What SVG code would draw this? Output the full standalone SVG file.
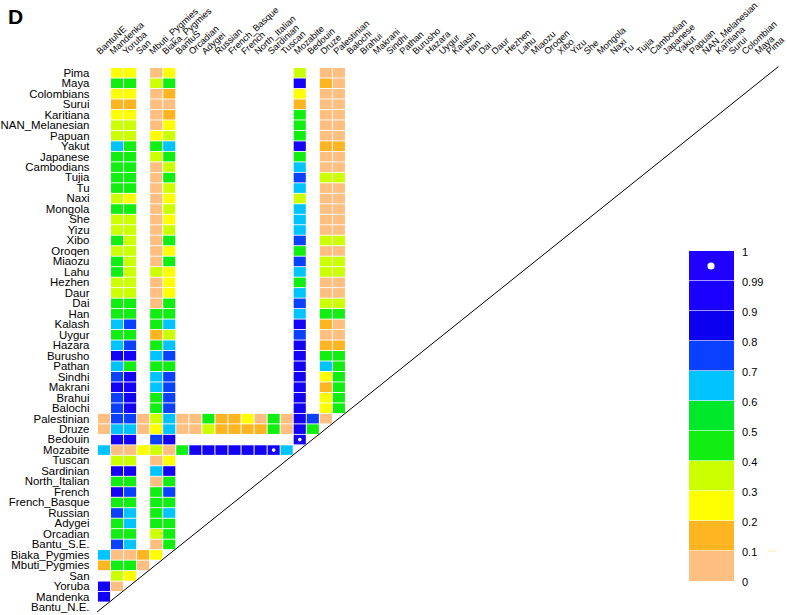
<svg xmlns="http://www.w3.org/2000/svg" width="787" height="615" viewBox="0 0 787 615">
<style>
text{font-family:"Liberation Sans",Arial,sans-serif;fill:#000}
.rl{font-size:10.4px;text-anchor:end}
.cl{font-size:9.2px}
.lg{font-size:11px}
.p{fill:#ffbf80}.o{fill:#ffb422}.y{fill:#ffff00}.yg{fill:#ccff00}.g{fill:#11ee11}.g6{fill:#00e82a}.lb{fill:#00c4ff}.mb{fill:#0a40ff}.db{fill:#1402f6}.d1{fill:#2000ff}.d99{fill:#1a00ff}.d9{fill:#0a00ee}
.cells rect{width:12.1px;height:9.6px}
</style>
<rect width="787" height="615" fill="#fff"/>
<text x="8" y="23.5" style="font-size:21px;font-weight:bold">D</text>
<g id="column-labels" class="cl">
<text transform="translate(100,55) rotate(-43)">BantuNE</text>
<text transform="translate(113.17,55) rotate(-43)">Mandenka</text>
<text transform="translate(126.34,55) rotate(-43)">Yoruba</text>
<text transform="translate(139.51,55) rotate(-43)">San</text>
<text transform="translate(152.68,55) rotate(-43)">Mbuti_Pygmies</text>
<text transform="translate(165.85,55) rotate(-43)">Biaka_Pygmies</text>
<text transform="translate(179.02,55) rotate(-43)">BantuS</text>
<text transform="translate(192.19,55) rotate(-43)">Orcadian</text>
<text transform="translate(205.36,55) rotate(-43)">Adygei</text>
<text transform="translate(218.53,55) rotate(-43)">Russian</text>
<text transform="translate(231.7,55) rotate(-43)">French_Basque</text>
<text transform="translate(244.87,55) rotate(-43)">French</text>
<text transform="translate(258.04,55) rotate(-43)">North_Italian</text>
<text transform="translate(271.21,55) rotate(-43)">Sardinian</text>
<text transform="translate(284.38,55) rotate(-43)">Tuscan</text>
<text transform="translate(297.55,55) rotate(-43)">Mozabite</text>
<text transform="translate(310.72,55) rotate(-43)">Bedouin</text>
<text transform="translate(323.89,55) rotate(-43)">Druze</text>
<text transform="translate(337.06,55) rotate(-43)">Palestinian</text>
<text transform="translate(350.23,55) rotate(-43)">Balochi</text>
<text transform="translate(363.4,55) rotate(-43)">Brahui</text>
<text transform="translate(376.57,55) rotate(-43)">Makrani</text>
<text transform="translate(389.74,55) rotate(-43)">Sindhi</text>
<text transform="translate(402.91,55) rotate(-43)">Pathan</text>
<text transform="translate(416.08,55) rotate(-43)">Burusho</text>
<text transform="translate(429.25,55) rotate(-43)">Hazara</text>
<text transform="translate(442.42,55) rotate(-43)">Uygur</text>
<text transform="translate(455.59,55) rotate(-43)">Kalash</text>
<text transform="translate(468.76,55) rotate(-43)">Han</text>
<text transform="translate(481.93,55) rotate(-43)">Dai</text>
<text transform="translate(495.1,55) rotate(-43)">Daur</text>
<text transform="translate(508.27,55) rotate(-43)">Hezhen</text>
<text transform="translate(521.44,55) rotate(-43)">Lahu</text>
<text transform="translate(534.61,55) rotate(-43)">Miaozu</text>
<text transform="translate(547.78,55) rotate(-43)">Oroqen</text>
<text transform="translate(560.95,55) rotate(-43)">Xibo</text>
<text transform="translate(574.12,55) rotate(-43)">Yizu</text>
<text transform="translate(587.29,55) rotate(-43)">She</text>
<text transform="translate(600.46,55) rotate(-43)">Mongola</text>
<text transform="translate(613.63,55) rotate(-43)">Naxi</text>
<text transform="translate(626.8,55) rotate(-43)">Tu</text>
<text transform="translate(639.97,55) rotate(-43)">Tujia</text>
<text transform="translate(653.14,55) rotate(-43)">Cambodian</text>
<text transform="translate(666.31,55) rotate(-43)">Japanese</text>
<text transform="translate(679.48,55) rotate(-43)">Yakut</text>
<text transform="translate(692.65,55) rotate(-43)">Papuan</text>
<text transform="translate(705.82,55) rotate(-43)">NAN_Melanesian</text>
<text transform="translate(718.99,55) rotate(-43)">Karitiana</text>
<text transform="translate(732.16,55) rotate(-43)">Surui</text>
<text transform="translate(745.33,55) rotate(-43)">Colombian</text>
<text transform="translate(758.5,55) rotate(-43)">Maya</text>
<text transform="translate(769.5,55) rotate(-43)">Pima</text>
</g>
<g id="row-labels" class="rl" transform="scale(1.1,1)">
<text x="81.36" y="76.7">Pima</text>
<text x="81.36" y="87.18">Maya</text>
<text x="81.36" y="97.66">Colombians</text>
<text x="81.36" y="108.14">Surui</text>
<text x="81.36" y="118.62">Karitiana</text>
<text x="81.36" y="129.1">NAN_Melanesian</text>
<text x="81.36" y="139.58">Papuan</text>
<text x="81.36" y="150.06">Yakut</text>
<text x="81.36" y="160.54">Japanese</text>
<text x="81.36" y="171.02">Cambodians</text>
<text x="81.36" y="181.5">Tujia</text>
<text x="81.36" y="191.98">Tu</text>
<text x="81.36" y="202.46">Naxi</text>
<text x="81.36" y="212.94">Mongola</text>
<text x="81.36" y="223.42">She</text>
<text x="81.36" y="233.9">Yizu</text>
<text x="81.36" y="244.38">Xibo</text>
<text x="81.36" y="254.86">Oroqen</text>
<text x="81.36" y="265.34">Miaozu</text>
<text x="81.36" y="275.82">Lahu</text>
<text x="81.36" y="286.3">Hezhen</text>
<text x="81.36" y="296.78">Daur</text>
<text x="81.36" y="307.26">Dai</text>
<text x="81.36" y="317.74">Han</text>
<text x="81.36" y="328.22">Kalash</text>
<text x="81.36" y="338.7">Uygur</text>
<text x="81.36" y="349.18">Hazara</text>
<text x="81.36" y="359.66">Burusho</text>
<text x="81.36" y="370.14">Pathan</text>
<text x="81.36" y="380.62">Sindhi</text>
<text x="81.36" y="391.1">Makrani</text>
<text x="81.36" y="401.58">Brahui</text>
<text x="81.36" y="412.06">Balochi</text>
<text x="81.36" y="422.54">Palestinian</text>
<text x="81.36" y="433.02">Druze</text>
<text x="81.36" y="443.5">Bedouin</text>
<text x="81.36" y="453.98">Mozabite</text>
<text x="81.36" y="464.46">Tuscan</text>
<text x="81.36" y="474.94">Sardinian</text>
<text x="81.36" y="485.42">North_Italian</text>
<text x="81.36" y="495.9">French</text>
<text x="81.36" y="506.38">French_Basque</text>
<text x="81.36" y="516.86">Russian</text>
<text x="81.36" y="527.34">Adygei</text>
<text x="81.36" y="537.82">Orcadian</text>
<text x="81.36" y="548.3">Bantu_S.E.</text>
<text x="81.36" y="558.78">Biaka_Pygmies</text>
<text x="81.36" y="569.26">Mbuti_Pygmies</text>
<text x="81.36" y="579.74">San</text>
<text x="81.36" y="590.22">Yoruba</text>
<text x="81.36" y="600.7">Mandenka</text>
<text x="81.36" y="611.18">Bantu_N.E.</text>
</g>
<g id="cells" class="cells">
<g id="r-pima" transform="translate(0,68)"><rect x="111" class="y"/><rect x="124.05" class="y"/><rect x="150.15" class="p"/><rect x="163.2" class="y"/><rect x="293.7" class="yg"/><rect x="319.8" class="p"/><rect x="332.85" class="p"/></g>
<g id="r-maya" transform="translate(0,78.48)"><rect x="111" class="g"/><rect x="124.05" class="g"/><rect x="150.15" class="yg"/><rect x="163.2" class="g"/><rect x="293.7" class="db"/><rect x="319.8" class="o"/><rect x="332.85" class="p"/></g>
<g id="r-colombians" transform="translate(0,88.96)"><rect x="111" class="y"/><rect x="124.05" class="y"/><rect x="150.15" class="p"/><rect x="163.2" class="o"/><rect x="293.7" class="y"/><rect x="319.8" class="p"/><rect x="332.85" class="p"/></g>
<g id="r-surui" transform="translate(0,99.44)"><rect x="111" class="o"/><rect x="124.05" class="o"/><rect x="150.15" class="p"/><rect x="163.2" class="p"/><rect x="293.7" class="o"/><rect x="319.8" class="p"/><rect x="332.85" class="p"/></g>
<g id="r-karitiana" transform="translate(0,109.92)"><rect x="111" class="y"/><rect x="124.05" class="y"/><rect x="150.15" class="p"/><rect x="163.2" class="o"/><rect x="293.7" class="g"/><rect x="319.8" class="p"/><rect x="332.85" class="p"/></g>
<g id="r-nan" transform="translate(0,120.4)"><rect x="111" class="yg"/><rect x="124.05" class="yg"/><rect x="150.15" class="p"/><rect x="163.2" class="y"/><rect x="293.7" class="g"/><rect x="319.8" class="p"/><rect x="332.85" class="p"/></g>
<g id="r-papuan" transform="translate(0,130.88)"><rect x="111" class="yg"/><rect x="124.05" class="yg"/><rect x="150.15" class="y"/><rect x="163.2" class="yg"/><rect x="293.7" class="g"/><rect x="319.8" class="p"/><rect x="332.85" class="p"/></g>
<g id="r-yakut" transform="translate(0,141.36)"><rect x="111" class="lb"/><rect x="124.05" class="g"/><rect x="150.15" class="g"/><rect x="163.2" class="lb"/><rect x="293.7" class="db"/><rect x="319.8" class="o"/><rect x="332.85" class="o"/></g>
<g id="r-japanese" transform="translate(0,151.84)"><rect x="111" class="g"/><rect x="124.05" class="g"/><rect x="150.15" class="yg"/><rect x="163.2" class="g"/><rect x="293.7" class="g"/><rect x="319.8" class="p"/><rect x="332.85" class="p"/></g>
<g id="r-cambodians" transform="translate(0,162.32)"><rect x="111" class="g"/><rect x="124.05" class="g"/><rect x="150.15" class="p"/><rect x="163.2" class="yg"/><rect x="293.7" class="lb"/><rect x="319.8" class="p"/><rect x="332.85" class="p"/></g>
<g id="r-tujia" transform="translate(0,172.8)"><rect x="111" class="g"/><rect x="124.05" class="g"/><rect x="150.15" class="p"/><rect x="163.2" class="g"/><rect x="293.7" class="mb"/><rect x="319.8" class="yg"/><rect x="332.85" class="yg"/></g>
<g id="r-tu" transform="translate(0,183.28)"><rect x="111" class="g"/><rect x="124.05" class="g"/><rect x="150.15" class="p"/><rect x="163.2" class="yg"/><rect x="293.7" class="lb"/><rect x="319.8" class="p"/><rect x="332.85" class="p"/></g>
<g id="r-naxi" transform="translate(0,193.76)"><rect x="111" class="yg"/><rect x="124.05" class="y"/><rect x="150.15" class="p"/><rect x="163.2" class="y"/><rect x="293.7" class="yg"/><rect x="319.8" class="p"/><rect x="332.85" class="p"/></g>
<g id="r-mongola" transform="translate(0,204.24)"><rect x="111" class="g"/><rect x="124.05" class="g"/><rect x="150.15" class="p"/><rect x="163.2" class="yg"/><rect x="293.7" class="lb"/><rect x="319.8" class="p"/><rect x="332.85" class="p"/></g>
<g id="r-she" transform="translate(0,214.72)"><rect x="111" class="yg"/><rect x="124.05" class="yg"/><rect x="150.15" class="p"/><rect x="163.2" class="y"/><rect x="293.7" class="lb"/><rect x="319.8" class="p"/><rect x="332.85" class="p"/></g>
<g id="r-yizu" transform="translate(0,225.2)"><rect x="111" class="yg"/><rect x="124.05" class="yg"/><rect x="150.15" class="p"/><rect x="163.2" class="yg"/><rect x="293.7" class="lb"/><rect x="319.8" class="p"/><rect x="332.85" class="p"/></g>
<g id="r-xibo" transform="translate(0,235.68)"><rect x="111" class="g"/><rect x="124.05" class="yg"/><rect x="150.15" class="p"/><rect x="163.2" class="g"/><rect x="293.7" class="mb"/><rect x="319.8" class="yg"/><rect x="332.85" class="yg"/></g>
<g id="r-oroqen" transform="translate(0,246.16)"><rect x="111" class="yg"/><rect x="124.05" class="yg"/><rect x="150.15" class="p"/><rect x="163.2" class="y"/><rect x="293.7" class="g"/><rect x="319.8" class="p"/><rect x="332.85" class="p"/></g>
<g id="r-miaozu" transform="translate(0,256.64)"><rect x="111" class="g"/><rect x="124.05" class="yg"/><rect x="150.15" class="p"/><rect x="163.2" class="g"/><rect x="293.7" class="mb"/><rect x="319.8" class="yg"/><rect x="332.85" class="yg"/></g>
<g id="r-lahu" transform="translate(0,267.12)"><rect x="111" class="g"/><rect x="124.05" class="yg"/><rect x="150.15" class="yg"/><rect x="163.2" class="y"/><rect x="293.7" class="lb"/><rect x="319.8" class="yg"/><rect x="332.85" class="yg"/></g>
<g id="r-hezhen" transform="translate(0,277.6)"><rect x="111" class="yg"/><rect x="124.05" class="yg"/><rect x="150.15" class="p"/><rect x="163.2" class="y"/><rect x="293.7" class="g"/><rect x="319.8" class="p"/><rect x="332.85" class="p"/></g>
<g id="r-daur" transform="translate(0,288.08)"><rect x="111" class="yg"/><rect x="124.05" class="yg"/><rect x="150.15" class="p"/><rect x="163.2" class="y"/><rect x="293.7" class="lb"/><rect x="319.8" class="p"/><rect x="332.85" class="p"/></g>
<g id="r-dai" transform="translate(0,298.56)"><rect x="111" class="g"/><rect x="124.05" class="g"/><rect x="150.15" class="p"/><rect x="163.2" class="g"/><rect x="293.7" class="mb"/><rect x="319.8" class="yg"/><rect x="332.85" class="yg"/></g>
<g id="r-han" transform="translate(0,309.04)"><rect x="111" class="g"/><rect x="124.05" class="g"/><rect x="150.15" class="g"/><rect x="163.2" class="g"/><rect x="293.7" class="lb"/><rect x="319.8" class="g"/><rect x="332.85" class="g"/></g>
<g id="r-kalash" transform="translate(0,319.52)"><rect x="111" class="lb"/><rect x="124.05" class="mb"/><rect x="150.15" class="g"/><rect x="163.2" class="lb"/><rect x="293.7" class="db"/><rect x="319.8" class="o"/><rect x="332.85" class="p"/></g>
<g id="r-uygur" transform="translate(0,330)"><rect x="111" class="g"/><rect x="124.05" class="g"/><rect x="150.15" class="o"/><rect x="163.2" class="yg"/><rect x="293.7" class="mb"/><rect x="319.8" class="p"/><rect x="332.85" class="p"/></g>
<g id="r-hazara" transform="translate(0,340.48)"><rect x="111" class="lb"/><rect x="124.05" class="mb"/><rect x="150.15" class="g"/><rect x="163.2" class="lb"/><rect x="293.7" class="db"/><rect x="319.8" class="o"/><rect x="332.85" class="o"/></g>
<g id="r-burusho" transform="translate(0,350.96)"><rect x="111" class="db"/><rect x="124.05" class="db"/><rect x="150.15" class="lb"/><rect x="163.2" class="mb"/><rect x="293.7" class="db"/><rect x="319.8" class="g"/><rect x="332.85" class="g"/></g>
<g id="r-pathan" transform="translate(0,361.44)"><rect x="111" class="lb"/><rect x="124.05" class="g"/><rect x="150.15" class="g"/><rect x="163.2" class="g"/><rect x="293.7" class="db"/><rect x="319.8" class="lb"/><rect x="332.85" class="g"/></g>
<g id="r-sindhi" transform="translate(0,371.92)"><rect x="111" class="mb"/><rect x="124.05" class="db"/><rect x="150.15" class="lb"/><rect x="163.2" class="mb"/><rect x="293.7" class="db"/><rect x="319.8" class="y"/><rect x="332.85" class="g"/></g>
<g id="r-makrani" transform="translate(0,382.4)"><rect x="111" class="db"/><rect x="124.05" class="db"/><rect x="150.15" class="lb"/><rect x="163.2" class="mb"/><rect x="293.7" class="db"/><rect x="319.8" class="o"/><rect x="332.85" class="g"/></g>
<g id="r-brahui" transform="translate(0,392.88)"><rect x="111" class="mb"/><rect x="124.05" class="db"/><rect x="150.15" class="g"/><rect x="163.2" class="mb"/><rect x="293.7" class="db"/><rect x="319.8" class="y"/><rect x="332.85" class="g"/></g>
<g id="r-balochi" transform="translate(0,403.36)"><rect x="111" class="mb"/><rect x="124.05" class="db"/><rect x="150.15" class="g"/><rect x="163.2" class="mb"/><rect x="293.7" class="db"/><rect x="319.8" class="y"/><rect x="332.85" class="g"/></g>
<g id="r-palestinian" transform="translate(0,413.84)"><rect x="97.95" class="p"/><rect x="111" class="mb"/><rect x="124.05" class="mb"/><rect x="137.1" class="p"/><rect x="150.15" class="yg"/><rect x="163.2" class="lb"/><rect x="176.25" class="p"/><rect x="189.3" class="p"/><rect x="202.35" class="g"/><rect x="215.4" class="o"/><rect x="228.45" class="o"/><rect x="241.5" class="y"/><rect x="254.55" class="p"/><rect x="267.6" class="g"/><rect x="280.65" class="p"/><rect x="293.7" class="db"/><rect x="306.75" class="mb"/><rect x="319.8" class="p"/></g>
<g id="r-druze" transform="translate(0,424.32)"><rect x="97.95" class="p"/><rect x="111" class="lb"/><rect x="124.05" class="lb"/><rect x="137.1" class="p"/><rect x="150.15" class="y"/><rect x="163.2" class="lb"/><rect x="176.25" class="p"/><rect x="189.3" class="p"/><rect x="202.35" class="yg"/><rect x="215.4" class="o"/><rect x="228.45" class="o"/><rect x="241.5" class="o"/><rect x="254.55" class="o"/><rect x="267.6" class="g"/><rect x="280.65" class="p"/><rect x="293.7" class="db"/><rect x="306.75" class="g"/></g>
<g id="r-bedouin" transform="translate(0,434.8)"><rect x="111" class="db"/><rect x="124.05" class="db"/><rect x="150.15" class="mb"/><rect x="163.2" class="db"/><rect x="293.7" class="db"/><circle cx="299.75" cy="4.8" r="1.8" fill="#fff"/></g>
<g id="r-mozabite" transform="translate(0,445.28)"><rect x="97.95" class="lb"/><rect x="111" class="p"/><rect x="124.05" class="p"/><rect x="137.1" class="y"/><rect x="150.15" class="yg"/><rect x="163.2" class="p"/><rect x="176.25" class="g"/><rect x="189.3" class="db"/><rect x="202.35" class="db"/><rect x="215.4" class="db"/><rect x="228.45" class="db"/><rect x="241.5" class="db"/><rect x="254.55" class="db"/><rect x="267.6" class="db"/><rect x="280.65" class="lb"/><circle cx="273.65" cy="4.8" r="1.8" fill="#fff"/></g>
<g id="r-tuscan" transform="translate(0,455.76)"><rect x="111" class="yg"/><rect x="124.05" class="yg"/><rect x="150.15" class="p"/><rect x="163.2" class="y"/></g>
<g id="r-sardinian" transform="translate(0,466.24)"><rect x="111" class="db"/><rect x="124.05" class="db"/><rect x="150.15" class="lb"/><rect x="163.2" class="db"/></g>
<g id="r-north-italian" transform="translate(0,476.72)"><rect x="111" class="g"/><rect x="124.05" class="g"/><rect x="150.15" class="p"/><rect x="163.2" class="g"/></g>
<g id="r-french" transform="translate(0,487.2)"><rect x="111" class="db"/><rect x="124.05" class="mb"/><rect x="150.15" class="g"/><rect x="163.2" class="mb"/></g>
<g id="r-french-basque" transform="translate(0,497.68)"><rect x="111" class="g"/><rect x="124.05" class="g"/><rect x="150.15" class="g"/><rect x="163.2" class="g"/></g>
<g id="r-russian" transform="translate(0,508.16)"><rect x="111" class="mb"/><rect x="124.05" class="lb"/><rect x="150.15" class="g"/><rect x="163.2" class="lb"/></g>
<g id="r-adygei" transform="translate(0,518.64)"><rect x="111" class="g"/><rect x="124.05" class="lb"/><rect x="150.15" class="g"/><rect x="163.2" class="g"/></g>
<g id="r-orcadian" transform="translate(0,529.12)"><rect x="111" class="g"/><rect x="124.05" class="g"/><rect x="150.15" class="yg"/><rect x="163.2" class="g"/></g>
<g id="r-bantu-se" transform="translate(0,539.6)"><rect x="111" class="mb"/><rect x="124.05" class="lb"/><rect x="150.15" class="p"/><rect x="163.2" class="g"/></g>
<g id="r-biaka" transform="translate(0,550.08)"><rect x="97.95" class="lb"/><rect x="111" class="p"/><rect x="124.05" class="p"/><rect x="137.1" class="o"/><rect x="150.15" class="y"/></g>
<g id="r-mbuti" transform="translate(0,560.56)"><rect x="97.95" class="o"/><rect x="111" class="g"/><rect x="124.05" class="g"/><rect x="137.1" class="p"/></g>
<g id="r-san" transform="translate(0,571.04)"><rect x="111" class="yg"/><rect x="124.05" class="y"/></g>
<g id="r-yoruba" transform="translate(0,581.52)"><rect x="97.95" class="db"/><rect x="111" class="p"/></g>
<g id="r-mandenka" transform="translate(0,592)"><rect x="97.95" class="db"/></g>
</g>
<g id="connectors">
<line x1="97" y1="612" x2="778.3" y2="66.7" stroke="#000" stroke-width="1"/>
</g>
<g id="legend">
<rect x="689" y="251" width="45" height="29.4" class="d1"/>
<rect x="689" y="281" width="45" height="29.4" class="d99"/>
<rect x="689" y="311" width="45" height="29.4" class="d9"/>
<rect x="689" y="341" width="45" height="29.4" class="mb"/>
<rect x="689" y="371" width="45" height="29.4" class="lb"/>
<rect x="689" y="401" width="45" height="29.4" class="g6"/>
<rect x="689" y="431" width="45" height="29.4" class="g"/>
<rect x="689" y="461" width="45" height="29.4" class="yg"/>
<rect x="689" y="491" width="45" height="29.4" class="y"/>
<rect x="689" y="521" width="45" height="29.4" class="o"/>
<rect x="689" y="551" width="45" height="30" class="p"/>
<circle cx="711" cy="266" r="3.6" fill="#fff"/>
<g class="lg">
<text x="742" y="255.5">1</text>
<text x="742" y="285.5">0.99</text>
<text x="742" y="315.5">0.9</text>
<text x="742" y="345.5">0.8</text>
<text x="742" y="375.5">0.7</text>
<text x="742" y="405.5">0.6</text>
<text x="742" y="435.5">0.5</text>
<text x="742" y="465.5">0.4</text>
<text x="742" y="495.5">0.3</text>
<text x="742" y="525.5">0.2</text>
<text x="742" y="555.5">0.1</text>
<text x="742" y="585.5">0</text>
</g>
<line x1="768.3" y1="551" x2="776.7" y2="551" stroke="#efe8a0" stroke-width="1"/>
</g>
</svg>
